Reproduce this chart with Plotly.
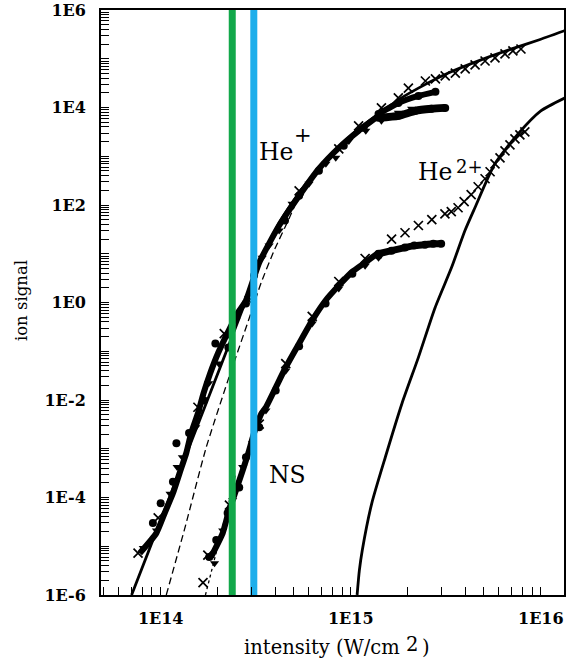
import plotly.graph_objects as go

# ---------------- data (intensity in W/cm^2, ion signal) ----------------
# He+ theory (solid)
hep_th_I = [7.03e13, 9.9e13, 1.6e14, 2.81e14, 3.3e14, 4.2e14, 5.35e14, 6.8e14, 8.65e14,
            1.1e15, 1.4e15, 1.78e15, 2.27e15, 3.26e15, 4.85e15, 7.3e15, 9.65e15, 1.34e16]
hep_th_S = [1e-6, 3.1e-5, 3.8e-3, 1.1, 6.6, 43, 179, 580, 1560,
            3660, 7400, 1.44e4, 2.5e4, 5.1e4, 9.5e4, 1.67e5, 2.4e5, 3.8e5]

# dashed curve
dash_I = [1.07e14, 1.34e14, 1.73e14, 2.24e14, 2.92e14, 3.38e14, 3.95e14, 4.73e14, 5.35e14]
dash_S = [1e-6, 2.35e-5, 1.02e-3, 0.023, 0.47, 2.56, 11.6, 52, 155]

# dotted curve (NS)
dot_I = [1.72e14, 1.99e14, 2.30e14, 2.47e14]
dot_S = [1e-6, 9.2e-6, 8.8e-5, 2.9e-4]

# He2+ theory (solid)
he2_th_I = [1.08e15, 1.11e15, 1.15e15, 1.29e15, 1.52e15, 1.86e15, 2.27e15, 2.78e15,
            3.39e15, 3.99e15, 4.5e15, 5.73e15, 7.59e15, 1.0e16, 1.34e16]
he2_th_S = [1e-6, 3.2e-6, 8.3e-6, 7.6e-5, 6.7e-4, 8.5e-3, 0.075, 0.79,
            5.2, 30, 88, 700, 2890, 8550, 1.58e4]

# He+ measured: dense data band (centre of the band of overlapping symbols)
hep_band_I = [7.76e13, 9.49e13, 1.05e14, 1.16e14, 1.257e14, 1.363e14, 1.447e14, 1.57e14,
              1.68e14, 1.82e14, 2.0e14, 2.24e14, 2.53e14, 2.81e14, 3.30e14, 4.2e14, 5.35e14,
              6.8e14, 8.65e14, 1.1e15, 1.4e15]
hep_band_S = [7.2e-6, 1.86e-5, 4.8e-5, 1.22e-4, 3.15e-4, 8.1e-4, 2.1e-3, 5.3e-3,
              0.0137, 0.035, 0.090, 0.23, 0.59, 1.1, 6.6, 38, 155,
              555, 1490, 3330, 6750]
# He+ measured: crosses
hep_x_I = [7.6e13, 9.7e13, 1.57e14, 2.16e14, 2.92e14, 5.35e14, 8.65e14, 1.1e15, 1.45e15,
           1.78e15, 2.01e15, 2.47e15, 2.79e15, 3.14e15, 3.55e15, 4.0e15, 4.51e15, 5.09e15,
           5.74e15, 6.48e15, 7.13e15, 7.86e15]
hep_x_S = [7.2e-6, 3.8e-5, 7.1e-3, 0.23, 1.1, 196, 1420, 4210, 9840,
           1.58e4, 2.5e4, 3.5e4, 3.86e4, 4.45e4, 5.1e4, 6.2e4, 7.5e4, 9.0e4,
           1.04e5, 1.26e5, 1.45e5, 1.59e5]
# He+ measured: dots (main band, then two saturated branches)
hep_d_I = [9.1e13, 1.0e14, 1.16e14, 1.21e14, 1.41e14, 1.69e14, 1.94e14, 2.27e14, 2.81e14,
           3.1e14, 4.51e14, 5.35e14, 6.8e14, 9.19e14, 1.17e15]
hep_d_S = [3.0e-5, 7.6e-5, 2.1e-4, 1.3e-3, 2.1e-3, 9.8e-3, 0.145, 0.12, 0.95,
           3.6, 48, 155, 505, 1640, 3830]
hep_da_I = [1.4e15, 1.78e15, 2.27e15, 2.79e15]
hep_da_S = [7400, 1.24e4, 1.73e4, 2.1e4]
hep_db_I = [1.4e15, 1.78e15, 2.19e15, 2.66e15, 3.14e15]
hep_db_S = [6140, 6750, 8550, 9400, 9840]
# He+ measured: triangles
hep_t_I = [8.1e13, 9.5e13, 1.12e14, 1.22e14, 1.30e14, 1.53e14, 1.79e14, 2.02e14, 2.49e14,
           3.42e14, 3.72e14, 4.2e14, 4.91e14, 6.03e14, 7.4e14, 8.34e14, 9.77e14, 1.2e15,
           1.45e15, 1.78e15, 2.09e15]
hep_t_S = [9.2e-6, 2.1e-5, 1.2e-4, 4.2e-4, 6.7e-4, 2.75e-3, 0.022, 0.056, 0.43,
           8.3, 14.7, 30, 106, 274, 700, 930, 2070, 3330,
           5330, 7780, 9400]

# He2+ measured: dense data band
he2_band_I = [1.84e14, 2.12e14, 2.27e14, 2.46e14, 2.67e14, 2.89e14, 3.10e14, 3.39e14,
              3.58e14, 4.03e14, 4.55e14, 5.35e14, 6.27e14, 7.37e14, 8.65e14, 1.02e15,
              1.19e15, 1.40e15]
he2_band_S = [6.0e-6, 1.86e-5, 4.8e-5, 1.22e-4, 3.15e-4, 8.1e-4, 2.1e-3, 5.3e-3,
              7.1e-3, 0.018, 0.047, 0.145, 0.43, 1.1, 2.23, 4.3,
              6.6, 10.6]
# He2+ measured: crosses
he2_x_I = [1.67e14, 1.77e14, 2.30e14, 3.30e14, 4.55e14, 6.27e14, 8.65e14, 1.19e15, 1.64e15,
           1.93e15, 2.27e15, 2.67e15, 3.13e15, 3.38e15, 3.67e15, 3.95e15, 4.30e15, 4.68e15,
           5.09e15, 5.41e15, 5.74e15, 6.10e15, 6.48e15, 6.88e15, 7.31e15, 7.76e15, 8.24e15]
he2_x_S = [1.8e-6, 6.6e-6, 7.0e-5, 3.2e-3, 0.056, 0.52, 2.7, 8.0, 20,
           27, 38, 50, 66, 73, 88, 117, 163, 237,
           346, 481, 700, 930, 1290, 1720, 2280, 2750, 3170]
# He2+ measured: dots (main band, then saturated branch)
he2_d_I = [1.80e14, 1.96e14, 2.25e14, 2.59e14, 2.81e14, 3.30e14, 4.03e14, 5.35e14, 7.37e14,
           1.02e15, 1.40e15]
he2_d_S = [6.0e-6, 1.34e-5, 4.8e-5, 1.6e-4, 6.7e-4, 2.75e-3, 0.0157, 0.126, 0.95,
           3.9, 9.2]
he2_db_I = [1.40e15, 1.64e15, 1.93e15, 2.16e15, 2.46e15, 2.72e15, 2.99e15]
he2_db_S = [10.0, 11.6, 13.4, 14.7, 15.4, 16.1, 16.1]
# He2+ measured: triangles
he2_t_I = [1.92e14, 2.12e14, 2.39e14, 2.70e14, 3.04e14, 3.58e14, 4.55e14, 6.27e14, 8.65e14,
           1.19e15, 1.40e15]
he2_t_S = [4.5e-6, 2.1e-5, 8.8e-5, 4.2e-4, 1.3e-3, 6.1e-3, 0.040, 0.37, 1.93,
           5.7, 8.3]

# vertical markers (intensity)
green_I = 2.38e14
blue_I = 3.09e14

# ticks (labelled)
y_label_vals = [1e-6, 1e-4, 1e-2, 1e0, 1e2, 1e4, 1e6]
y_label_text = ["1E-6", "1E-4", "1E-2", "1E0", "1E2", "1E4", "1E6"]
x_label_vals = [1e14, 1e15, 1e16]
x_label_text = ["1E14", "1E15", "1E16"]

# ---------------- figure ----------------
fig = go.Figure()

fig.add_trace(go.Scatter(x=hep_th_I, y=hep_th_S, mode="lines",
                         line=dict(color="black", width=2.8, shape="spline", smoothing=0.6)))
fig.add_trace(go.Scatter(x=he2_th_I, y=he2_th_S, mode="lines",
                         line=dict(color="black", width=2.8, shape="spline", smoothing=0.6)))
fig.add_trace(go.Scatter(x=dash_I, y=dash_S, mode="lines",
                         line=dict(color="black", width=1.3, dash="7px,4px", shape="spline", smoothing=0.5)))
fig.add_trace(go.Scatter(x=dot_I, y=dot_S, mode="lines",
                         line=dict(color="black", width=1.3, dash="dot")))

# data bands drawn as thick ragged strokes
for I, S, w in [(hep_band_I, hep_band_S, 6), (he2_band_I, he2_band_S, 6),
                (hep_da_I, hep_da_S, 6), (hep_db_I, hep_db_S, 8), (he2_db_I, he2_db_S, 7)]:
    fig.add_trace(go.Scatter(x=I, y=S, mode="lines",
                             line=dict(color="black", width=w, shape="spline", smoothing=0.5)))

cross = dict(symbol="x-thin", size=9, line=dict(color="black", width=1.7), color="black")
circ = dict(symbol="circle", size=8, color="black")
tri = dict(symbol="triangle-down", size=8, color="black")

for I, S, m in [(hep_d_I, hep_d_S, circ), (hep_t_I, hep_t_S, tri),
                (hep_da_I, hep_da_S, circ), (hep_db_I, hep_db_S, circ),
                (he2_d_I, he2_d_S, circ), (he2_t_I, he2_t_S, tri),
                (he2_db_I, he2_db_S, circ),
                (hep_x_I, hep_x_S, cross), (he2_x_I, he2_x_S, cross)]:
    fig.add_trace(go.Scatter(x=I, y=S, mode="markers", marker=m))

fig.add_trace(go.Scatter(x=[green_I, green_I], y=[1e-6, 1e6], mode="lines",
                         line=dict(color="#12A84A", width=7)))
fig.add_trace(go.Scatter(x=[blue_I, blue_I], y=[1e-6, 1e6], mode="lines",
                         line=dict(color="#1DAEEB", width=7)))

font_name = "DejaVu Serif"
tickfont = dict(family=font_name, size=16, color="black", weight="bold")

# every 1..9 x 10^n gets a tick; only the listed decades get a label
y_tv, y_tt = [], []
for e in range(-6, 7):
    for d in range(1, 10):
        v = d * 10.0 ** e
        if v > 1.0001e6:
            break
        y_tv.append(v)
        y_tt.append(y_label_text[y_label_vals.index(v)] if (d == 1 and v in y_label_vals) else "")
x_tv, x_tt = [], []
for e in range(13, 17):
    for d in range(1, 10):
        v = d * 10.0 ** e
        x_tv.append(v)
        x_tt.append(x_label_text[x_label_vals.index(v)] if (d == 1 and v in x_label_vals) else "")

common = dict(ticks="inside", ticklen=8, tickwidth=1.4, tickcolor="black",
              showline=True, linecolor="black", linewidth=1.8, mirror=True,
              showgrid=False, zeroline=False, tickfont=tickfont,
              ticklabeloverflow="allow")
fig.update_xaxes(type="log", range=[13.686, 16.122], tickmode="array",
                 tickvals=x_tv, ticktext=x_tt, ticklabelstandoff=8, **common)
fig.update_yaxes(type="log", range=[-6.0005, 6.001], tickmode="array",
                 tickvals=y_tv, ticktext=y_tt, ticklabelstandoff=10, **common)

annfont = dict(family=font_name, size=23.5, color="black")
titlefont = dict(family=font_name, size=19.5, color="black")


def ann(text, x, y, font, xanchor="left", **kw):
    return dict(text=text, xref="paper", yref="paper", x=x, y=y, xanchor=xanchor,
                yanchor="middle", showarrow=False, font=font, **kw)


fig.update_layout(
    width=567, height=667, autosize=False,
    margin=dict(l=101, r=1, t=9, b=72),
    paper_bgcolor="white", plot_bgcolor="white",
    showlegend=False,
    annotations=[
        ann("He", 0.3376, 0.7577, annfont),
        ann("+", 0.4365, 0.7855, dict(family=font_name, size=21, color="black"), xanchor="center"),
        ann("He", 0.6796, 0.7235, annfont),
        ann("2+", 0.7634, 0.7321, dict(family=font_name, size=18, color="black")),
        ann("NS", 0.3591, 0.2048, annfont),
        ann("ion signal", -0.172, 0.503, dict(family=font_name, size=16.5, color="black"),
            xanchor="center", textangle=-90),
        ann("intensity (W/cm", 0.6495, -0.0904, titlefont, xanchor="right"),
        ann("2", 0.6538, -0.0853, titlefont),
        ann(")", 0.688, -0.0904, titlefont),
    ],
)

fig.write_html("out.html")
